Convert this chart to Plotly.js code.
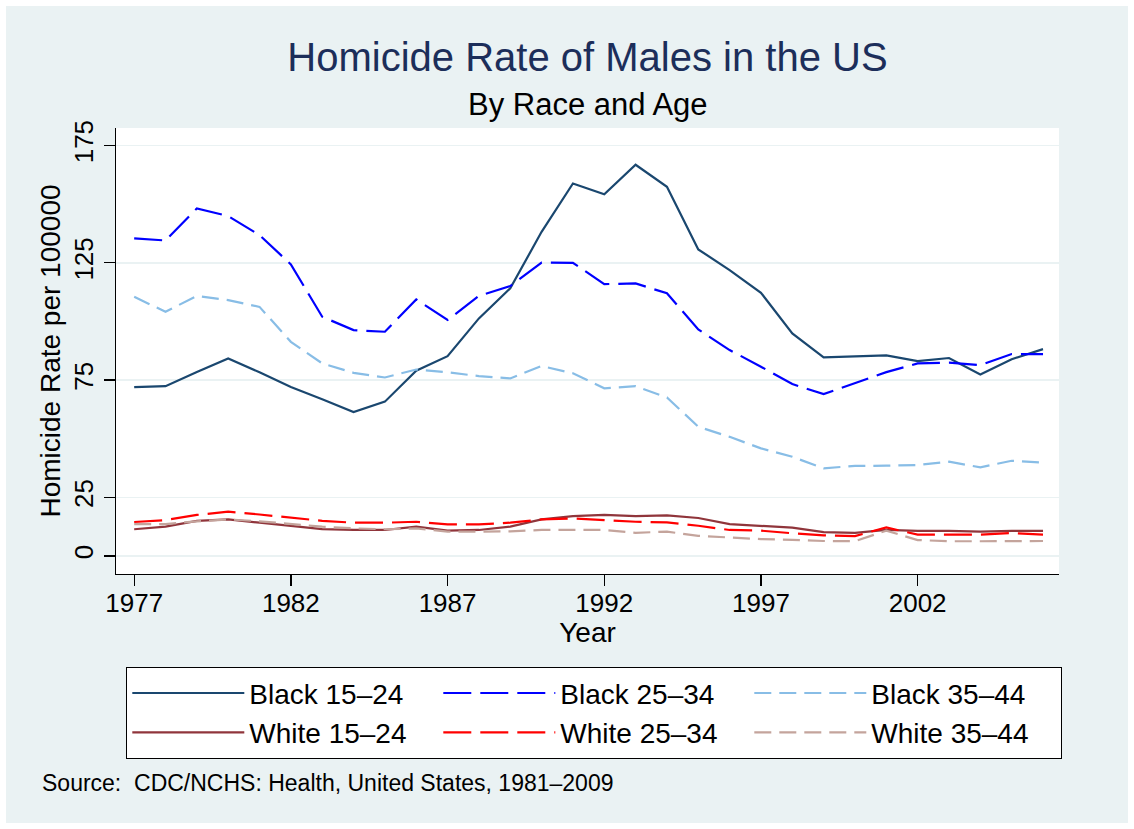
<!DOCTYPE html>
<html>
<head>
<meta charset="utf-8">
<script src="https://cdn.plot.ly/plotly-3.0.1.min.js"></script>
<style>
  html, body { margin: 0; padding: 0; background: #ffffff; }
  #chart { position: absolute; left: 6px; top: 6px; width: 1122px; height: 817px; }
</style>
</head>
<body>
<div id="chart"></div>
<script>
const years = [1977,1978,1979,1980,1981,1982,1983,1984,1985,1986,1987,1988,1989,1990,1991,
               1992,1993,1994,1995,1996,1997,1998,1999,2000,2001,2002,2003,2004,2005,2006];

const black1524 = [72.0,72.4,78.4,84.2,78.3,72.0,66.8,61.4,65.8,79.0,85.2,101.3,114.1,138.2,158.8,
                   154.2,166.8,157.4,130.7,121.9,112.2,94.9,84.7,85.1,85.5,83.1,84.4,77.4,83.9,88.2];
const black2534 = [135.4,134.5,148.2,144.9,136.8,124.3,102.0,96.3,95.6,109.4,100.6,110.9,115.1,125.1,125.0,
                   115.9,116.2,112.0,96.6,87.8,80.7,73.3,69.0,73.6,78.4,82.1,82.4,81.4,86.1,86.1];
const black3544 = [110.5,104.1,110.9,109.1,106.2,91.3,82.1,78.1,76.1,79.5,78.3,76.7,75.7,81.0,77.9,
                   71.5,72.4,67.6,55.1,50.8,45.9,42.3,37.4,38.4,38.5,38.8,40.2,37.8,40.6,39.8];
const white1524 = [11.4,12.5,15.0,15.6,14.2,12.8,11.5,11.1,11.1,12.5,10.8,11.1,12.5,15.6,17.0,
                   17.5,17.0,17.3,16.2,13.6,12.8,12.1,10.2,9.9,11.1,10.7,10.7,10.4,10.7,10.7];
const white2534 = [14.5,15.3,17.5,18.9,17.7,16.3,15.0,14.2,14.2,14.6,13.5,13.5,14.2,15.6,16.0,
                   15.3,14.6,14.3,12.9,11.1,10.8,9.7,8.8,8.5,12.2,9.1,9.1,9.1,9.8,9.1];
const white3544 = [13.6,13.6,14.8,15.6,14.8,13.6,12.5,11.8,11.4,11.8,10.4,10.4,10.5,11.1,11.1,
                   11.1,9.9,10.4,8.6,7.8,7.2,6.9,6.4,6.3,10.8,6.8,6.3,6.3,6.3,6.4];

const seriesNames = ["Black 15\u201324","Black 25\u201334","Black 35\u201344",
                     "White 15\u201324","White 25\u201334","White 35\u201344"];
const xTickVals = [1977,1982,1987,1992,1997,2002];
const yTickVals = [0,25,75,125,175];

const FONT = "Liberation Sans, Arial, Helvetica, sans-serif";
const BG = "#eaf2f3";

const styles = [
  {color:"#1a476f", dash:"solid"},
  {color:"#0000ff", dash:"28px,9px"},
  {color:"#88bde6", dash:"17px,8px"},
  {color:"#90353b", dash:"solid"},
  {color:"#ff0000", dash:"28px,9px"},
  {color:"#c4a49c", dash:"17px,8px"}
];
const allSeries = [black1524, black2534, black3544, white1524, white2534, white3544];

const traces = allSeries.map((vals, i) => ({
  type: "scatter",
  mode: "lines",
  x: years,
  y: vals,
  name: seriesNames[i],
  line: {color: styles[i].color, dash: styles[i].dash, width: 2.2},
  hoverinfo: "x+y+name"
}));

const yRange = [-7.67, 182.46];

const layout = {
  width: 1122, height: 817,
  paper_bgcolor: BG,
  plot_bgcolor: "#ffffff",
  font: {family: FONT, color: "#000000", size: 26},
  margin: {l: 110, r: 69, t: 122, b: 249, pad: 0},
  title: {
    text: "Homicide Rate of Males in the US",
    font: {family: FONT, size: 40, color: "#1c2e5a"},
    x: 0.5, xref: "paper", xanchor: "center",
    y: 1 - 51/817, yref: "container", yanchor: "middle"
  },
  annotations: [
    {text: "By Race and Age", xref: "paper", yref: "paper", x: 0.5, y: (568-98)/446,
     xanchor: "center", yanchor: "middle", showarrow: false,
     font: {family: FONT, size: 31, color: "#000000"}},
    {text: "Source:  CDC/NCHS: Health, United States, 1981\u20132009", xref: "paper", yref: "paper",
     x: (34-110)/943, y: (568-777)/446, xanchor: "left", yanchor: "middle", showarrow: false,
     font: {family: FONT, size: 23, color: "#000000"}}
  ],
  xaxis: {
    range: [1976.42, 2006.51],
    tickvals: xTickVals,
    ticks: "outside", ticklen: 11, tickwidth: 1.3, tickcolor: "#000000",
    showline: true, linecolor: "#000000", linewidth: 1.3,
    showgrid: false, zeroline: false,
    ticklabelstandoff: -6,
    tickfont: {family: FONT, size: 26},
    title: {text: "Year", font: {family: FONT, size: 28}, standoff: 0}
  },
  yaxis: {
    range: yRange,
    tickvals: yTickVals,
    tickangle: -90,
    ticks: "outside", ticklen: 11, tickwidth: 1.3, tickcolor: "#000000",
    showline: true, linecolor: "#000000", linewidth: 1.3,
    showgrid: true, gridcolor: BG, gridwidth: 1.6,
    zeroline: false,
    tickfont: {family: FONT, size: 26},
    title: {text: "Homicide Rate per 100000", font: {family: FONT, size: 28}, standoff: 0}
  },
  yaxis2: {
    range: yRange,
    overlaying: "y", side: "right",
    tickvals: yTickVals,
    tickangle: -90,
    ticks: "outside", ticklen: 11, tickwidth: 1.3, tickcolor: "#000000",
    showline: true, linecolor: "#000000", linewidth: 1.3,
    showgrid: false, zeroline: false,
    tickfont: {family: FONT, size: 26}
  },
  legend: {
    orientation: "h",
    x: (120-110)/943, xanchor: "left",
    y: (568-661)/446, yanchor: "top",
    bgcolor: "#ffffff", bordercolor: "#000000", borderwidth: 1.3,
    font: {family: FONT, size: 28},
    itemwidth: 112,
    entrywidth: 184,
    traceorder: "normal"
  },
  showlegend: true
};

Plotly.newPlot("chart", traces, layout, {displayModeBar: false, staticPlot: true});
</script>
</body>
</html>
